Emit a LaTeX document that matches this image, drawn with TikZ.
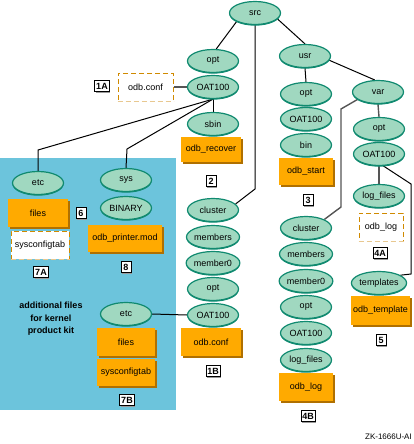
\documentclass[tikz,border=0pt]{standalone}
\usepackage{fontspec}
\setmainfont{Liberation Sans}
\usetikzlibrary{shapes.geometric,shadows}
\definecolor{mint}{HTML}{A0D8C0}
\definecolor{tealb}{HTML}{108A70}
\definecolor{orf}{HTML}{FFAA00}
\definecolor{ors}{HTML}{B07000}
\definecolor{bluebg}{HTML}{6CC4DC}
\definecolor{dor}{HTML}{D08A00}
\definecolor{lor}{HTML}{E8C890}
\definecolor{dgray}{HTML}{555555}
\definecolor{sgray}{HTML}{999999}
\pgfdeclarelayer{background}
\pgfsetlayers{background,main}
\begin{document}
\begin{tikzpicture}[x=1pt,y=-1pt,
  el/.style={ellipse, draw=tealb, fill=mint, line width=1.2pt, minimum width=51pt,
    minimum height=23pt, inner sep=0pt, font=\fontsize{9}{10}\selectfont,
    general shadow={fill=tealb, shadow yshift=-1.2pt}},
  ob/.style={rectangle, fill=orf, draw=none, inner sep=0pt, font=\fontsize{9}{10}\selectfont,
    general shadow={fill=ors, shadow xshift=2pt, shadow yshift=-2pt}},
  db/.style={rectangle, fill=white, draw=dor, dash pattern=on 5pt off 3pt,
    line width=1pt, inner sep=0pt, font=\fontsize{9}{10}\selectfont},
  lab/.style={rectangle, draw=black, fill=white, line width=0.9pt, inner sep=1.3pt,
    minimum height=11pt, minimum width=10pt, font=\fontsize{9}{10}\selectfont\bfseries,
    general shadow={fill=sgray, shadow xshift=1pt, shadow yshift=-1pt}},
  conn/.style={draw=black, line width=1pt},
  gconn/.style={draw=dgray, line width=1.4pt},
]
\useasboundingbox (0,0) rectangle (413,444);

% nodes
\node[el] (src) at (255,13) {src};
\node[el] (optA) at (213,61) {opt};
\node[el] (oatA) at (213,87) {OAT100};
\node[el] (sbin) at (213,124) {sbin};
\node[el] (usr) at (305,56) {usr};
\node[el] (optB) at (306,94) {opt};
\node[el] (oatB) at (306,119) {OAT100};
\node[el] (binB) at (306,145) {bin};
\node[el] (var) at (378,92) {var};
\node[el] (optC) at (379,129) {opt};
\node[el] (oatC) at (379,154) {OAT100};
\node[el] (logC) at (379,196) {log\_files};
\node[el] (templ) at (379,283) {templates};
\node[el] (clM) at (213,210) {cluster};
\node[el] (memM) at (213,237) {members};
\node[el] (mem0M) at (213,263) {member0};
\node[el] (optM) at (213,289) {opt};
\node[el] (oatM) at (213,315) {OAT100};
\node[el] (clR) at (306,228) {cluster};
\node[el] (memR) at (306,254) {members};
\node[el] (mem0R) at (306,281) {member0};
\node[el] (optR) at (306,307) {opt};
\node[el] (oatR) at (306,333) {OAT100};
\node[el] (logR) at (306,360) {log\_files};
\node[el] (etcA) at (38,183) {etc};
\node[el] (sys) at (126,180) {sys};
\node[el] (binary) at (126,208) {BINARY};
\node[el] (etcB) at (126,314) {etc};

% orange boxes
\node[ob, minimum width=60pt, minimum height=25pt] (recover) at (211,149.5) {odb\_recover};
\node[ob, minimum width=54pt, minimum height=27pt] (start) at (306,171.5) {odb\_start};
\node[ob, minimum width=60pt, minimum height=28pt] (confM) at (211,342) {odb.conf};
\node[ob, minimum width=54pt, minimum height=28pt] (logbox) at (306,387) {odb\_log};
\node[ob, minimum width=59pt, minimum height=29pt] (template) at (380.5,310.5) {odb\_template};
\node[ob, minimum width=60pt, minimum height=28pt] (filesA) at (38,213) {files};
\node[ob, minimum width=74pt, minimum height=27pt] (printer) at (125,238.5) {odb\_printer.mod};
\node[ob, minimum width=58pt, minimum height=28pt] (filesB) at (126,342) {files};
\node[ob, minimum width=58pt, minimum height=27pt] (sysB) at (126,372.5) {sysconfigtab};

% dashed boxes
\node[db, minimum width=55pt, minimum height=28pt] (confA) at (145.5,87) {odb.conf};
\node[db, minimum width=58pt, minimum height=28pt] (sysA) at (40,245) {sysconfigtab};
\node[db, minimum width=44pt, minimum height=28pt] (logd) at (381,227) {odb\_log};
\foreach \b in {confA,sysA,logd}
  \draw[lor, line width=1.8pt, dash pattern=on 5pt off 3pt] (\b.south west) -- (\b.south east);

% labels
\node[lab] (l1A) at (102,86) {1A};
\node[lab] (l2) at (211,181) {2};
\node[lab] (l3) at (308,200) {3};
\node[lab] (l4A) at (380,253) {4A};
\node[lab] (l5) at (381,340) {5};
\node[lab] (l1B) at (213,371) {1B};
\node[lab] (l4B) at (308,416) {4B};
\node[lab] (l6) at (81,213) {6};
\node[lab] (l7A) at (41,272) {7A};
\node[lab] (l8) at (126,267) {8};
\node[lab] (l7B) at (127,400) {7B};

\node[font=\fontsize{9}{12.5}\selectfont\bfseries, align=center] (addtxt) at (51,319)
  {additional files\\for kernel\\product kit};
\node[font=\fontsize{8}{9}\selectfont, anchor=east, inner sep=0pt] (zk) at (412,437) {ZK-1666U-AI};

% connector bend coordinates
\coordinate (k1) at (255,189);
\coordinate (k2) at (38,150);
\coordinate (k3) at (127,149);
\coordinate (k4) at (341,109);
\coordinate (k5) at (341,207);
\coordinate (k6) at (411,184);
\coordinate (k7) at (411,274);

\begin{pgfonlayer}{background}
\fill[bluebg] (0,158) rectangle (176,410);
\draw[conn] (src.205) -- (optA.75);
\draw[conn] (src.345) -- (usr.north);
\draw[conn] (src.south) -- (k1) -- (clM.15);
\draw[conn] (oatA.south) -- (sbin.north);
\draw[conn] (oatA.south) -- (k2) -- (etcA.north);
\draw[conn] (oatA.south) -- (k3) -- (sys.north);
\draw[gconn] (confA.east) -- (oatA.west);
\draw[conn] (usr.south) -- (optB.north);
\draw[conn] (usr.350) -- (var.105);
\draw[gconn] (var.200) -- (k4) -- (k5) -- (clR.25);
\draw[gconn] (var.south) -- (optC.north);
\draw[gconn] (oatC.south) -- (logC.north);
\draw[conn] (oatC.-70) -- (k6) -- (k7) -- (templ.20);
\draw[conn] (etcB.east) -- (oatM.west);
\end{pgfonlayer}
\end{tikzpicture}
\end{document}
